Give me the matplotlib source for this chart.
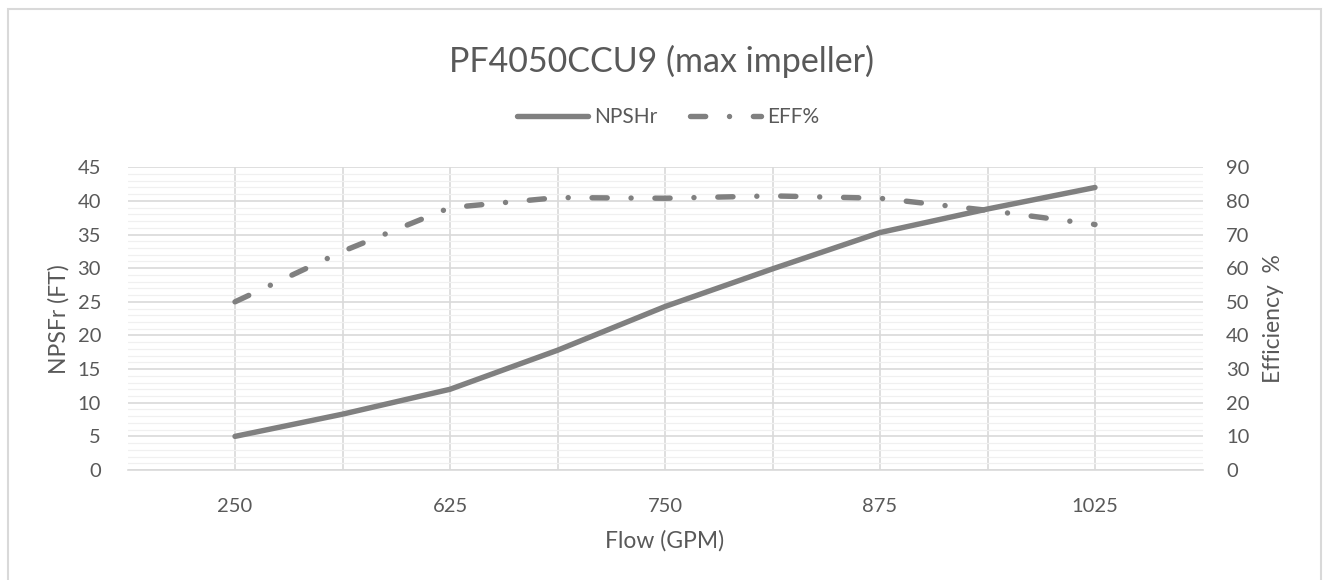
import matplotlib
matplotlib.use("Agg")
import matplotlib.pyplot as plt
from matplotlib.lines import Line2D
from matplotlib.patches import Rectangle

# category positions along the flow axis, labels on every other slot
flow_labels = ['250', '', '625', '', '750', '', '875', '', '1025']
npshr = [5, 8.3, 12, 17.8, 24.3, 29.9, 35.3, 38.8, 42]
eff = [50, 65, 78, 81, 80.8, 81.5, 80.8, 77.2, 73]

GRAY = '#808080'
TEXT = '#595959'
GRID = '#d9d9d9'
MINOR = '#f0f0f0'
FONT = ['Lato', 'DejaVu Sans']

plt.rcParams['font.family'] = FONT

W, H = 1323, 580
fig = plt.figure(figsize=(W / 100, H / 100), dpi=100)
ax = fig.add_axes([127.5 / W, 1 - 470 / H, 1075 / W, 302.7 / H])
ax2 = ax.twinx()

x = list(range(len(flow_labels)))
DASH = (2.8, 4.4, 0.01, 4.4)

ax.plot(x, npshr, color=GRAY, lw=3.9, solid_capstyle='round',
        solid_joinstyle='round', zorder=3)
ax2.plot(x, eff, color=GRAY, lw=3.9, dashes=DASH,
         dash_capstyle='round', dash_joinstyle='round', zorder=3)

ax.set_xlim(-1, len(flow_labels))
ax.set_ylim(0, 45)
ax2.set_ylim(0, 90)
ax.set_yticks(range(0, 46, 5))
ax2.set_yticks(range(0, 91, 10))
ax.set_yticks(range(0, 46), minor=True)
ax.set_xticks(x)
ax.set_xticklabels(flow_labels)

ax.grid(True, which='major', axis='both', color=GRID, lw=1.2, zorder=0)
ax.grid(True, which='minor', axis='y', color=MINOR, lw=0.9, zorder=0)
ax.set_axisbelow(True)

for a in (ax, ax2):
    for s in a.spines.values():
        s.set_visible(False)
    a.tick_params(length=0, labelsize=14.5, labelcolor=TEXT, which='both')
ax.spines['bottom'].set_visible(True)
ax.spines['bottom'].set_color(GRID)
ax.spines['bottom'].set_linewidth(1.2)
ax.tick_params(axis='y', pad=19)
ax.tick_params(axis='x', pad=20)
ax2.tick_params(axis='y', pad=17)

ax.set_ylabel('NPSFr (FT)', fontsize=16.5, color=TEXT, labelpad=6)
ax2.set_ylabel('Efficiency  %', fontsize=16.5, color=TEXT, labelpad=10)
ax.set_xlabel('Flow (GPM)', fontsize=16.5, color=TEXT, labelpad=11)

fig.text(0.5, 1 - 61 / H, 'PF4050CCU9 (max impeller)', ha='center', va='center',
         fontsize=24.5, color=TEXT)

handles = [Line2D([], [], color=GRAY, lw=3.9, solid_capstyle='round'),
           Line2D([], [], color=GRAY, lw=3.9, dashes=DASH,
                  dash_capstyle='round')]
fig.legend(handles, ['NPSHr', 'EFF%'], loc='center', ncol=2,
           bbox_to_anchor=(0.505, 1 - 117 / H), frameon=False, fontsize=15,
           labelcolor=TEXT, handlelength=3.4, handletextpad=0.3, columnspacing=1.6)

# chart border
fig.patches.append(Rectangle((7.5 / W, -0.05), (1321 - 7.5) / W, 1.05 - 9 / H,
                             transform=fig.transFigure, fill=False,
                             edgecolor=GRID, lw=1.5))

fig.savefig('out.png', dpi=100)
